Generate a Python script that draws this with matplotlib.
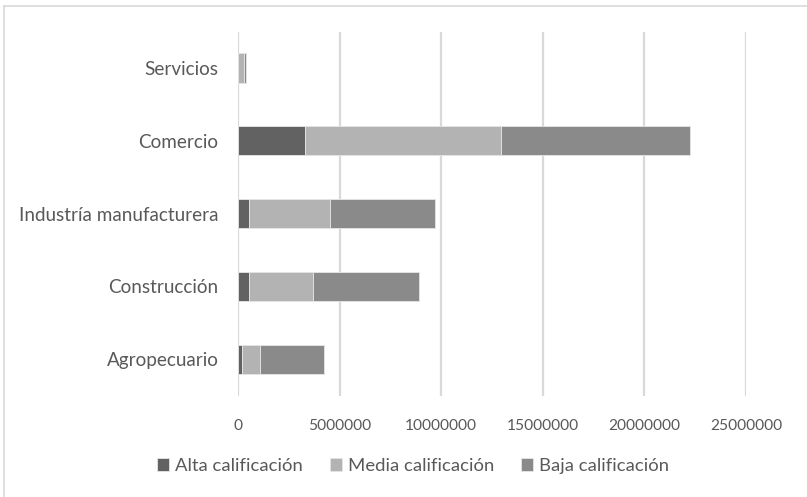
import numpy as np
import matplotlib
matplotlib.use("Agg")
import matplotlib.pyplot as plt
from matplotlib.lines import Line2D

# Datos
sectores = ["Agropecuario", "Construcción", "Industría manufacturera", "Comercio", "Servicios"]
alta = [200000, 540000, 540000, 3280000, 20000]
media = [880000, 3170000, 4000000, 9650000, 280000]
baja = [3150000, 5180000, 5160000, 9330000, 110000]
series_labels = ["Alta calificación", "Media calificación", "Baja calificación"]
xticks = [0, 5000000, 10000000, 15000000, 20000000, 25000000]

colores = ["#626262", "#b3b3b3", "#8a8a8a"]
texto = "#595959"

plt.rcParams["font.family"] = ["Lato", "DejaVu Sans"]

fig = plt.figure(figsize=(8.07, 4.97), dpi=100)
W, H = 807, 497
ax = fig.add_axes([238 / W, 1 - 395.7 / H, (746 - 238) / W, (395.7 - 31.6) / H])

y = np.arange(len(sectores))
left = np.zeros(len(sectores))
for vals, lab, c in zip([alta, media, baja], series_labels, colores):
    ax.barh(y, vals, left=left, height=0.4, color=c, label=lab,
            edgecolor="#e6e6e6", linewidth=0.6, zorder=3)
    left = left + np.array(vals)

ax.set_xlim(0, 25000000)
ax.set_ylim(-0.5, len(sectores) - 0.5)
ax.set_xticks(xticks)
ax.set_xticklabels([str(t) for t in xticks])
ax.set_yticks(y)
ax.set_yticklabels(sectores)
ax.tick_params(axis="both", length=0, colors=texto)
ax.tick_params(axis="y", pad=14, labelsize=13.6)
ax.tick_params(axis="x", pad=17, labelsize=11.2)
ax.grid(axis="x", color="#d9d9d9", linewidth=1.6, zorder=0)
for s in ax.spines.values():
    s.set_visible(False)

leg = fig.legend(loc="center", bbox_to_anchor=(413 / W, 1 - 466 / H), ncol=3,
                 frameon=False, fontsize=13.3, handlelength=0.65, handleheight=0.65,
                 handletextpad=0.3, columnspacing=1.5, labelcolor=texto)

# marco del grafico
fig.add_artist(Line2D([4 / W, 1], [1 - 6 / H, 1 - 6 / H], color="#d9d9d9", lw=1.2))
fig.add_artist(Line2D([4 / W, 4 / W], [0, 1 - 6 / H], color="#d9d9d9", lw=1.2))

fig.savefig("out.png", dpi=100)
plt.close(fig)
